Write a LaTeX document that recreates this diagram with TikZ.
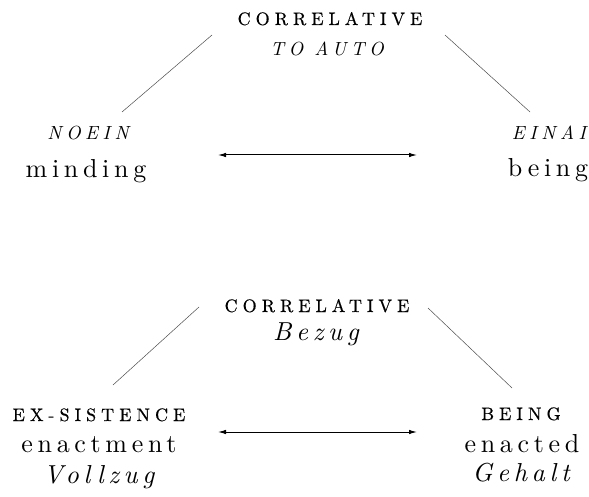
\documentclass[tikz,border=0pt]{standalone}
\usepackage{fontspec}
\newfontfamily\sprm{lmroman10}[Extension=.otf, UprightFont=*-regular, ItalicFont=*-italic, BoldFont=*-bold, LetterSpace=18]
\newfontfamily\spcap{lmroman10}[Extension=.otf, UprightFont=*-regular, ItalicFont=*-italic, BoldFont=*-bold, LetterSpace=28, FakeBold=0.4]
\newfontfamily\spit{lmroman10}[Extension=.otf, UprightFont=*-regular, ItalicFont=*-italic, BoldFont=*-bold, LetterSpace=24]
\usetikzlibrary{arrows.meta}
\tikzset{
  word/.style={font=\fontsize{26}{30}\sprm, anchor=base, inner sep=0pt},
  itword/.style={font=\fontsize{26}{30}\sprm\itshape, anchor=base, inner sep=0pt},
  capword/.style={font=\fontsize{18}{22}\spcap, anchor=base, inner sep=0pt},
  itcap/.style={font=\fontsize{19}{23}\spit\itshape, anchor=base, inner sep=0pt},
  tie/.style={draw=black!70, line width=0.5pt},
  link/.style={{Latex[length=8pt,width=4.5pt]}-{Latex[length=8pt,width=4.5pt]}, line width=1pt}
}
\begin{document}
\begin{tikzpicture}[x=1pt,y=-1pt]
\useasboundingbox (0,0) rectangle (589,497);
% upper triangle
\node[capword] (topA) at (330,25) {CORRELATIVE};
\node[itcap]   (topB) at (327,56) {TO AUTO};
\node[itcap]   (noein) at (88,140) {NOEIN};
\node[word]    (minding) at (86,178) {minding};
\node[itcap]   (einai) at (549,140) {EINAI};
\node[word]    (being) at (548,177) {being};
\coordinate (t1a) at (212,35);  \coordinate (t1b) at (122,112);
\coordinate (t2a) at (445,35);  \coordinate (t2b) at (530,112);
\coordinate (a1a) at (218,155); \coordinate (a1b) at (417,155);
\draw[tie] (t1a) -- (t1b);
\draw[tie] (t2a) -- (t2b);
\draw[link] (a1a) -- (a1b);
% lower triangle
\node[capword] (botA) at (317,312) {CORRELATIVE};
\node[itword]  (bezug) at (316,340) {Bezug};
\node[capword] (exs) at (99,421) {EX-SISTENCE};
\node[word]    (enactment) at (99,452) {enactment};
\node[itword]  (vollzug) at (99,483) {Vollzug};
\node[capword] (beingsc) at (521,420) {BEING};
\node[word]    (enacted) at (522,452) {enacted};
\node[itword]  (gehalt) at (521,481) {Gehalt};
\coordinate (b1a) at (199,307); \coordinate (b1b) at (113,385);
\coordinate (b2a) at (428,308); \coordinate (b2b) at (512,388);
\coordinate (a2a) at (218,432); \coordinate (a2b) at (417,432);
\draw[tie] (b1a) -- (b1b);
\draw[tie] (b2a) -- (b2b);
\draw[link] (a2a) -- (a2b);
\end{tikzpicture}
\end{document}
